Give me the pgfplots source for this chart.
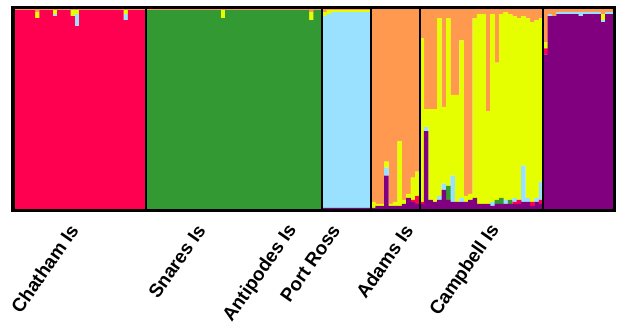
\documentclass[border=0pt]{standalone}
\usepackage{pgfplots}
\usepackage{pgfplotstable}
\usepackage{fontspec}
\setmainfont{Liberation Sans}
\pgfplotsset{compat=1.18}
\definecolor{cRed}{RGB}{255,0,80}
\definecolor{cGreen}{RGB}{51,153,51}
\definecolor{cBlue}{RGB}{153,225,255}
\definecolor{cOrange}{RGB}{255,153,80}
\definecolor{cYellow}{RGB}{230,255,0}
\definecolor{cPurple}{RGB}{128,0,128}
\pgfplotstableread{
x p r g b y o
0.5 0 .99 0 0 0 .01
1.5 0 .99 0 0 0 .01
2.5 0 .99 0 0 0 .01
3.5 0 .99 0 0 0 .01
4.5 0 .99 0 0 0 .01
5.5 0 .95 0 0 .03 .02
6.5 0 .99 0 0 0 .01
7.5 0 .99 0 0 0 .01
8.5 0 .99 0 0 0 .01
9.5 0 .96 0 .01 .02 .01
10.5 0 .99 0 0 0 .01
11.5 0 .99 0 0 0 .01
12.5 0 .99 0 0 0 .01
13.5 0 .96 0 0 .03 .01
14.5 0 .91 0 .06 .02 .01
15.5 0 .99 0 0 0 .01
16.5 0 .99 0 0 0 .01
17.5 0 .99 0 0 0 .01
18.5 0 .99 0 0 0 .01
19.5 0 .99 0 0 0 .01
20.5 0 .99 0 0 0 .01
21.5 0 .99 0 0 0 .01
22.5 0 .99 0 0 0 .01
23.5 0 .99 0 0 0 .01
24.5 0 .99 0 0 0 .01
25.5 0 .94 0 .03 .02 .01
26.5 0 .99 0 0 0 .01
27.5 0 .99 0 0 0 .01
28.5 0 .99 0 0 0 .01
29.5 0 .99 0 0 0 .01
30.5 0 0 .99 0 0 .01
31.5 0 0 .99 0 0 .01
32.5 0 0 .99 0 0 .01
33.5 0 0 .99 0 0 .01
34.5 0 0 .99 0 0 .01
35.5 0 0 .99 0 0 .01
36.5 0 0 .99 0 0 .01
37.5 0 0 .99 0 0 .01
38.5 0 0 .99 0 0 .01
39.5 0 0 .99 0 0 .01
40.5 0 0 .99 0 0 .01
41.5 0 0 .99 0 0 .01
42.5 0 0 .99 0 0 .01
43.5 0 0 .99 0 0 .01
44.5 0 0 .99 0 0 .01
45.5 0 0 .99 0 0 .01
46.5 0 0 .99 0 0 .01
47.5 0 0 .95 0 .04 .01
48.5 0 0 .99 0 0 .01
49.5 0 0 .99 0 0 .01
50.5 0 0 .99 0 0 .01
51.5 0 0 .99 0 0 .01
52.5 0 0 .99 0 0 .01
53.5 0 0 .99 0 0 .01
54.5 0 0 .99 0 0 .01
55.5 0 0 .99 0 0 .01
56.5 0 0 .99 0 0 .01
57.5 0 0 .99 0 0 .01
58.5 0 0 .99 0 0 .01
59.5 0 0 .99 0 0 .01
60.5 0 0 .99 0 0 .01
61.5 0 0 .99 0 0 .01
62.5 0 0 .99 0 0 .01
63.5 0 0 .99 0 0 .01
64.5 0 0 .99 0 0 .01
65.5 0 0 .99 0 0 .01
66.5 0 0 .99 0 0 .01
67.5 0 0 .94 0 .04 .02
68.5 0 0 .99 0 0 .01
69.5 0 0 .99 0 0 .01
70.5 .01 0 0 .95 .02 .02
71.5 .01 0 0 .96 .02 .01
72.5 .01 0 0 .97 .01 .01
73.5 .01 0 0 .97 .01 .01
74.5 .01 0 0 .97 .01 .01
75.5 .01 0 0 .97 .01 .01
76.5 .01 0 0 .97 .01 .01
77.5 .01 0 0 .97 .01 .01
78.5 .01 0 0 .97 .01 .01
79.5 .01 0 0 .97 .01 .01
80.5 .01 0 0 .97 .01 .01
81.5 .01 0 0 0 .03 .96
82.5 .02 0 0 0 .01 .97
83.5 .02 0 0 0 .01 .97
84.5 .17 0 0 .04 .03 .76
85.5 .02 0 0 0 .01 .97
86.5 .02 0 0 0 .02 .96
87.5 .02 0 0 0 .32 .66
88.5 .03 0 0 0 .02 .95
89.5 .06 0 0 0 .02 .92
90.5 .04 .01 0 0 .11 .84
91.5 .03 .04 0 0 .12 .81
92.5 .03 .01 0 0 .81 .15
93.5 .39 0 0 .02 .09 .50
94.5 .05 0 0 0 .45 .50
95.5 .04 0 0 0 .46 .50
96.5 .05 0 0 .02 .88 .05
97.5 .10 0 0 .03 .38 .49
98.5 .05 0 .07 0 .83 .05
99.5 .04 0 0 .13 .40 .43
100.5 .04 0 0 0 .53 .43
101.5 .04 0 0 .02 .78 .16
102.5 .04 0 0 0 .03 .93
103.5 .05 0 0 0 .03 .92
104.5 .06 0 0 0 .89 .05
105.5 .03 0 0 0 .94 .03
106.5 .03 0 0 0 .94 .03
107.5 .03 0 0 0 .46 .51
108.5 .02 0 0 .02 .93 .03
109.5 .03 0 .02 0 .68 .27
110.5 .03 0 .03 0 .91 .03
111.5 .03 0 0 .02 .93 .02
112.5 .03 0 .02 0 .92 .03
113.5 .03 .01 0 .02 .90 .04
114.5 .03 .02 0 0 .90 .05
115.5 .04 0 0 .18 .74 .04
116.5 .04 0 0 .02 .89 .05
117.5 .02 .02 0 0 .89 .07
118.5 .04 0 0 .02 .88 .06
119.5 .03 .02 0 .09 .81 .05
120.5 .77 .03 0 0 .03 .17
121.5 .96 0 0 .01 0 .03
122.5 .96 0 0 0 0 .04
123.5 .97 0 0 .01 0 .02
124.5 .97 0 0 .01 0 .02
125.5 .97 0 0 .01 0 .02
126.5 .97 0 0 .01 0 .02
127.5 .97 0 0 .01 0 .02
128.5 .96 0 0 .02 0 .02
129.5 .97 0 0 .01 0 .02
130.5 .97 0 0 .01 0 .02
131.5 .97 0 0 .01 0 .02
132.5 .97 0 0 .01 0 .02
133.5 .93 0 0 .01 .03 .03
134.5 .97 0 0 .01 0 .02
135.5 .97 0 0 .01 0 .02
}\datatable
\begin{document}
\begin{tikzpicture}
\useasboundingbox (-13bp,-116bp) rectangle (608bp,210bp);
\begin{axis}[
  scale only axis,
  width=601bp, height=202bp,
  xmin=0, xmax=136, ymin=0, ymax=1,
  ybar stacked, bar width=1.03,
  axis on top,
  axis line style={line width=3bp},
  ytick=\empty,
  xtick={14.25,43.0,63.8,73.5,90.0,109.7},
  xticklabels={Chatham Is,Snares Is,Antipodes Is,Port Ross,Adams Is,Campbell Is},
  major tick length=0pt,
  xticklabel style={yshift=-14bp, rotate=55, anchor=east, font=\fontsize{19}{21}\selectfont\bfseries},
  extra x ticks={30,70,81,92,120},
  extra x tick labels={},
  extra x tick style={grid=major, major grid style={black, line width=2bp}},
]
\addplot[fill=cPurple, draw=none] table[x=x, y=p] {\datatable};
\addplot[fill=cRed, draw=none] table[x=x, y=r] {\datatable};
\addplot[fill=cGreen, draw=none] table[x=x, y=g] {\datatable};
\addplot[fill=cBlue, draw=none] table[x=x, y=b] {\datatable};
\addplot[fill=cYellow, draw=none] table[x=x, y=y] {\datatable};
\addplot[fill=cOrange, draw=none] table[x=x, y=o] {\datatable};
\end{axis}
\end{tikzpicture}
\end{document}
